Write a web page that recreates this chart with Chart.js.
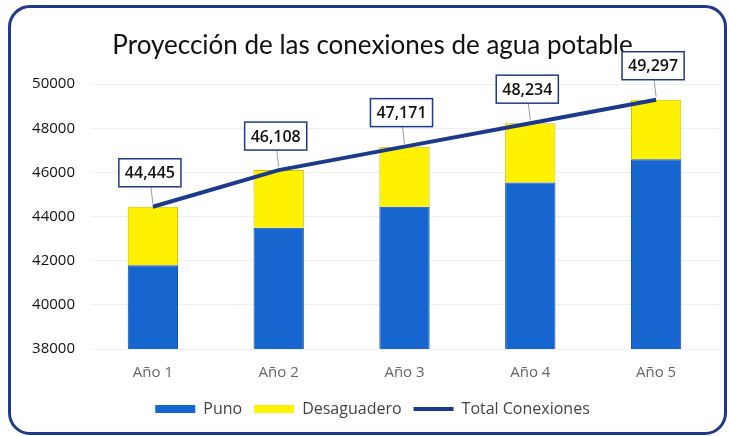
<!DOCTYPE html>
<html>
<head>
<meta charset="utf-8">
<script src="https://cdn.jsdelivr.net/npm/chart.js@4"></script>
<style>
    html, body { margin: 0; padding: 0; background: #fff; }
    #wrap { position: relative; width: 730px; height: 436px; }
    #frame {
        position: absolute; left: 8px; top: 5px; width: 713px; height: 424px;
        border: 3px solid #1F3A8A; border-radius: 22px;
    }
    #chart { position: absolute; left: 0; top: 0; }
</style>
</head>
<body>
<div id="wrap">
    <div id="frame"></div>
    <canvas id="chart" width="730" height="436"></canvas>
</div>
<script>
const years = ['Año 1', 'Año 2', 'Año 3', 'Año 4', 'Año 5'];
const puno = [41800, 43500, 44450, 45550, 46600];
const desaguadero = [2645, 2608, 2721, 2684, 2697];
const totalConexiones = [44445, 46108, 47171, 48234, 49297];
const yTicks = [38000, 40000, 42000, 44000, 46000, 48000, 50000];

// etiquetas en caja sobre la linea de total
const boxLabels = {
    id: 'boxLabels',
    afterDatasetsDraw(chart) {
        const ctx = chart.ctx;
        const meta = chart.getDatasetMeta(2);
        ctx.save();
        ctx.font = '600 16px "Open Sans"';
        meta.data.forEach(function(pt, i) {
            const txt = totalConexiones[i].toLocaleString('en-US');
            const w = ctx.measureText(txt).width + 12;
            const h = 28;
            const cx = pt.x - 3;
            const bottom = pt.y - 20;
            ctx.strokeStyle = '#9a9a9a';
            ctx.lineWidth = 1;
            ctx.beginPath();
            ctx.moveTo(pt.x, pt.y - 3);
            ctx.lineTo(pt.x - 2, bottom);
            ctx.stroke();
            ctx.fillStyle = '#fff';
            ctx.fillRect(cx - w / 2, bottom - h, w, h);
            ctx.strokeStyle = '#1F3A8A';
            ctx.lineWidth = 1.5;
            ctx.strokeRect(cx - w / 2, bottom - h, w, h);
            ctx.fillStyle = '#111';
            ctx.textAlign = 'center';
            ctx.textBaseline = 'middle';
            ctx.fillText(txt, cx, bottom - h / 2 + 1);
        });
        ctx.restore();
    }
};

const ctx1 = document.getElementById('chart').getContext('2d');
const myChart = new Chart(ctx1, {
    type: 'bar',
    data: {
        labels: years,
        datasets: [{
            label: 'Puno',
            data: puno,
            backgroundColor: '#1766D0',
            borderColor: '#0E4C9E',
            borderWidth: 1,
            stack: 'a',
            order: 1
        }, {
            label: 'Desaguadero',
            data: desaguadero,
            backgroundColor: '#FFF200',
            borderColor: '#C9BF00',
            borderWidth: 1,
            stack: 'a',
            order: 1
        }, {
            type: 'line',
            label: 'Total Conexiones',
            data: totalConexiones,
            borderColor: '#1B3A8C',
            backgroundColor: '#1B3A8C',
            borderWidth: 4,
            pointRadius: 0,
            pointStyle: 'line',
            stack: 'total',
            order: 0
        }]
    },
    options: {
        responsive: false,
        animation: false,
        layout: {
            padding: { left: 26, right: 11, top: 8, bottom: 9 }
        },
        datasets: {
            bar: { barPercentage: 0.8, categoryPercentage: 0.5 }
        },
        scales: {
            y: {
                stacked: true,
                min: 38000,
                max: 50000,
                afterBuildTicks: function(axis) {
                    axis.ticks = yTicks.map(v => ({ value: v }));
                },
                afterFit: function(axis) { axis.width = 64; },
                ticks: {
                    color: '#111',
                    font: { family: 'Open Sans', size: 15 },
                    padding: 15,
                    callback: function(value) {
                        return String(value);
                    }
                },
                grid: { color: 'rgba(0,0,0,0.06)', drawTicks: false },
                border: { display: false }
            },
            x: {
                stacked: true,
                ticks: {
                    color: '#666',
                    font: { family: 'Open Sans', size: 15 },
                    padding: 7
                },
                grid: { display: false },
                border: { display: false }
            }
        },
        plugins: {
            title: {
                display: true,
                text: 'Proyección de las conexiones de agua potable',
                color: '#111',
                font: { family: 'Lato', size: 26, weight: 'normal' },
                padding: { top: 22, bottom: 23 }
            },
            legend: {
                position: 'bottom',
                labels: {
                    usePointStyle: true,
                    pointStyleWidth: 40,
                    boxHeight: 8,
                    color: '#444',
                    font: { family: 'Open Sans', size: 16 },
                    padding: 12,
                    sort: (a, b) => a.datasetIndex - b.datasetIndex,
                    generateLabels: function(chart) {
                        const items = Chart.defaults.plugins.legend.labels.generateLabels(chart);
                        items.forEach(function(it) {
                            if (it.datasetIndex < 2) {
                                it.pointStyle = 'rect';
                                it.lineWidth = 0;
                            } else {
                                it.pointStyle = 'line';
                                it.lineWidth = 4;
                            }
                        });
                        return items;
                    }
                }
            },
            tooltip: { enabled: false }
        }
    },
    plugins: [boxLabels]
});
</script>
</body>
</html>
